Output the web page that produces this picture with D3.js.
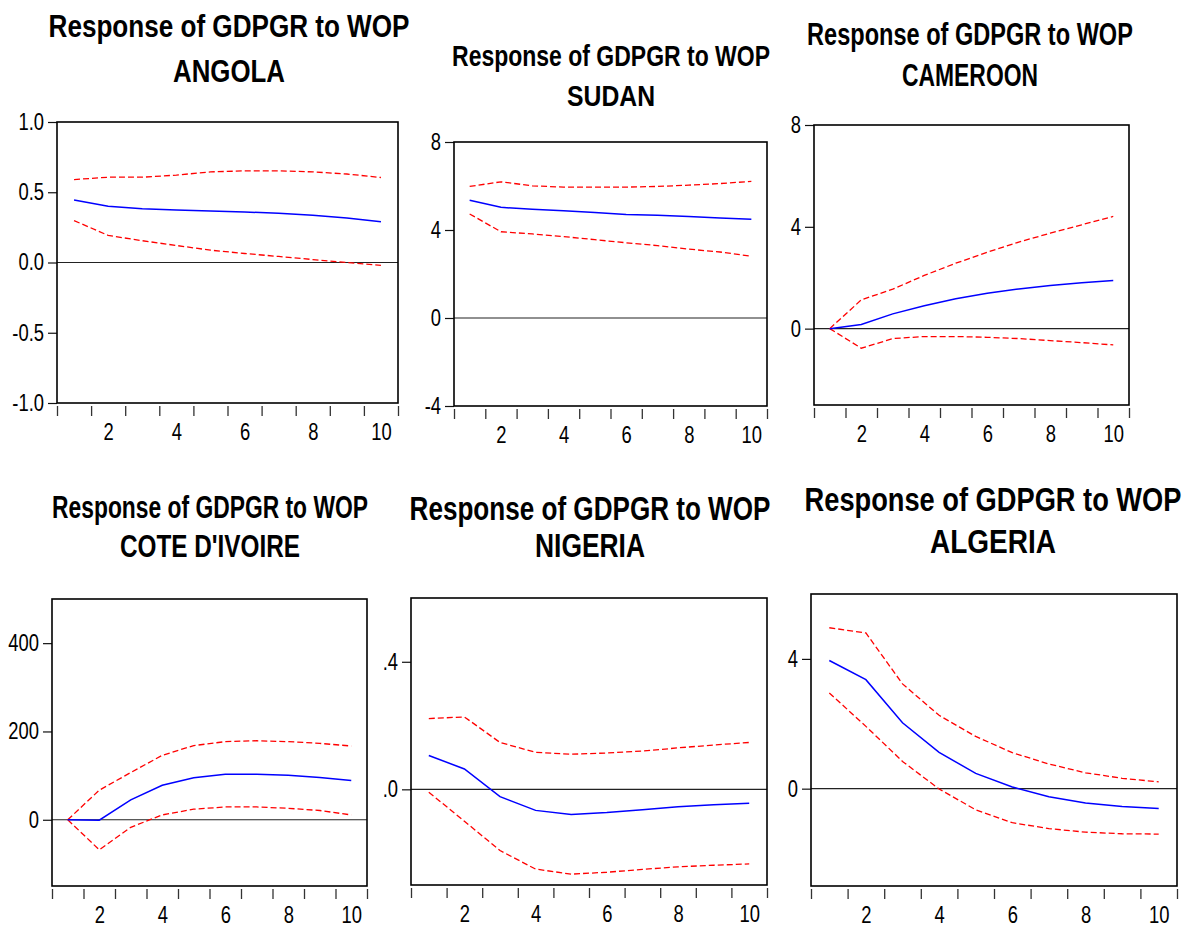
<!DOCTYPE html>
<html>
<head>
<meta charset="utf-8">
<script src="https://cdn.jsdelivr.net/npm/d3@7"></script>
<style>
  body { margin: 0; background: #fff; }
  svg text { font-family: "Liberation Sans Narrow", "Arial Narrow", "Liberation Sans", Arial, sans-serif; fill: #000; }
</style>
</head>
<body>
<svg id="chart" width="1188" height="929"></svg>
<script>
// Impulse-response horizon (periods) and the labelled x ticks
const periods = [1, 2, 3, 4, 5, 6, 7, 8, 9, 10];
const xTickLabels = [2, 4, 6, 8, 10];

// Country names shown as the second title line
const countries = ["ANGOLA", "SUDAN", "CAMEROON", "COTE D'IVOIRE", "NIGERIA", "ALGERIA"];
const titleText = "Response of GDPGR to WOP";

// Response of GDPGR to a WOP shock, with the ±2 S.E. bands
const angolaResponse = [0.445, 0.400, 0.383, 0.374, 0.367, 0.360, 0.350, 0.336, 0.317, 0.290];
const angolaUpper    = [0.590, 0.607, 0.607, 0.622, 0.645, 0.652, 0.652, 0.645, 0.630, 0.605];
const angolaLower    = [0.298, 0.193, 0.155, 0.121, 0.088, 0.064, 0.043, 0.021, 0.000, -0.021];

const sudanResponse = [5.35, 5.03, 4.94, 4.87, 4.79, 4.71, 4.67, 4.61, 4.55, 4.49];
const sudanUpper    = [5.98, 6.19, 6.01, 5.95, 5.95, 5.95, 5.98, 6.04, 6.11, 6.21];
const sudanLower    = [4.73, 3.92, 3.82, 3.70, 3.56, 3.42, 3.29, 3.13, 3.00, 2.81];

const cameroonResponse = [0.00, 0.16, 0.58, 0.90, 1.17, 1.39, 1.56, 1.69, 1.80, 1.89];
const cameroonUpper    = [0.00, 1.13, 1.55, 2.09, 2.57, 3.00, 3.40, 3.75, 4.08, 4.41];
const cameroonLower    = [0.00, -0.77, -0.39, -0.31, -0.31, -0.34, -0.39, -0.47, -0.55, -0.64];

const coteResponse = [0, -1, 45, 78, 95, 103, 103, 101, 96, 89];
const coteUpper    = [0, 67, 107, 146, 168, 177, 179, 177, 173, 167];
const coteLower    = [0, -68, -17, 11, 24, 29, 29, 26, 21, 11];

const nigeriaResponse = [0.106, 0.064, -0.023, -0.066, -0.079, -0.073, -0.064, -0.055, -0.048, -0.044];
const nigeriaUpper    = [0.222, 0.227, 0.147, 0.116, 0.110, 0.114, 0.120, 0.130, 0.139, 0.147];
const nigeriaLower    = [-0.009, -0.100, -0.192, -0.250, -0.266, -0.260, -0.251, -0.243, -0.238, -0.234];

const algeriaResponse = [3.95, 3.36, 2.03, 1.12, 0.47, 0.05, -0.25, -0.44, -0.55, -0.61];
const algeriaUpper    = [4.96, 4.80, 3.23, 2.26, 1.61, 1.11, 0.76, 0.49, 0.32, 0.21];
const algeriaLower    = [2.95, 1.92, 0.84, -0.01, -0.65, -1.05, -1.23, -1.34, -1.39, -1.40];

// Y-axis ranges and tick values per country
const yDomains = [[-1, 1], [-4, 8], [-3, 8], [-150, 500], [-0.3, 0.6], [-3, 6]];
const yTicks = [[-1, -0.5, 0, 0.5, 1], [-4, 0, 4, 8], [0, 4, 8], [0, 200, 400], [0, 0.4], [0, 4]];
const yTickFormats = [
  d => d.toFixed(1),
  d => String(d), d => String(d), d => String(d),
  d => d.toFixed(1).replace(/^0/, ""),
  d => String(d)
];

const seriesSets = [
  [angolaResponse, angolaUpper, angolaLower],
  [sudanResponse, sudanUpper, sudanLower],
  [cameroonResponse, cameroonUpper, cameroonLower],
  [coteResponse, coteUpper, coteLower],
  [nigeriaResponse, nigeriaUpper, nigeriaLower],
  [algeriaResponse, algeriaUpper, algeriaLower]
];

// Page layout: plot frames and title placement
const frames = [
  { x: 57,  y: 122, w: 341, h: 281 },
  { x: 454, y: 142, w: 313, h: 264 },
  { x: 814, y: 125, w: 315, h: 280 },
  { x: 52,  y: 599, w: 315, h: 287 },
  { x: 411, y: 598, w: 356, h: 287 },
  { x: 811, y: 594, w: 366, h: 292 }
];
const titles = [
  { cx: 229, b1: 37,  b2: 82,  w1: 361, w2: 112, size: 31 },
  { cx: 611, b1: 66,  b2: 106, w1: 318, w2: 88,  size: 30 },
  { cx: 970, b1: 45,  b2: 86,  w1: 326, w2: 136, size: 31 },
  { cx: 210, b1: 518, b2: 557, w1: 316, w2: 180, size: 31 },
  { cx: 590, b1: 520, b2: 557, w1: 361, w2: 110, size: 33 },
  { cx: 993, b1: 511, b2: 553, w1: 377, w2: 126, size: 33 }
];
const tickFontSize = 23;
const narrow = 0.8; // horizontal condensing of the tick labels

const svg = d3.select("#chart");

// Condensed text: draw at natural width, then squeeze horizontally to fit w
function condensedText(parent, txt, cx, base, w, size) {
  const el = parent.append("text")
    .attr("text-anchor", "middle")
    .attr("font-size", size).attr("font-weight", "bold")
    .text(txt);
  const natural = el.node().getComputedTextLength();
  el.attr("transform", `translate(${cx},${base}) scale(${w / natural},1)`);
}

seriesSets.forEach((series, i) => {
  const f = frames[i];
  const t = titles[i];
  const g = svg.append("g");

  const x = d3.scaleLinear().domain([0.5, 10.5]).range([f.x, f.x + f.w]);
  const y = d3.scaleLinear().domain(yDomains[i]).range([f.y + f.h, f.y]);

  // Titles
  condensedText(g, titleText, t.cx, t.b1, t.w1, t.size);
  condensedText(g, countries[i], t.cx, t.b2, t.w2, t.size);

  // Y axis: short ticks outside the frame with labels
  const yAxis = d3.axisLeft(y).tickValues(yTicks[i]).tickFormat(yTickFormats[i])
    .tickSizeInner(9).tickSizeOuter(0).tickPadding(4);
  const ya = g.append("g").attr("transform", `translate(${f.x},0)`).call(yAxis);
  ya.select(".domain").remove();
  ya.selectAll(".tick line").attr("stroke", "#111").attr("stroke-width", 1.2);
  ya.selectAll(".tick text")
    .attr("font-size", tickFontSize).attr("font-family", null)
    .attr("x", -13 / narrow)
    .attr("transform", `scale(${narrow},1)`);

  // X axis: boundary ticks between periods, labels at even periods
  const bounds = d3.range(0.5, 11, 1);
  const xTicksAxis = d3.axisBottom(x).tickValues(bounds).tickFormat("")
    .tickSizeInner(10).tickSizeOuter(0);
  const xa = g.append("g").attr("transform", `translate(0,${f.y + f.h + 3})`).call(xTicksAxis);
  xa.select(".domain").remove();
  xa.selectAll(".tick line").attr("stroke", "#333").attr("stroke-width", 1.3);

  const xLabelAxis = d3.axisBottom(x).tickValues(xTickLabels).tickFormat(d3.format("d"))
    .tickSize(0).tickPadding(0);
  const xl = g.append("g").attr("transform", `translate(0,${f.y + f.h + 21})`).call(xLabelAxis);
  xl.select(".domain").remove();
  xl.selectAll(".tick text")
    .attr("font-size", tickFontSize).attr("font-family", null)
    .attr("dy", "0.71em")
    .attr("transform", `scale(${narrow},1)`);

  // Zero line
  g.append("line")
    .attr("x1", f.x).attr("x2", f.x + f.w)
    .attr("y1", y(0)).attr("y2", y(0))
    .attr("stroke", "#222").attr("stroke-width", 1.2);

  const line = d3.line().x((d, k) => x(periods[k])).y(d => y(d));

  // Confidence bands
  [series[1], series[2]].forEach(band => {
    g.append("path").datum(band)
      .attr("d", line).attr("fill", "none")
      .attr("stroke", "#ff0000").attr("stroke-width", 1.3)
      .attr("stroke-dasharray", "6,3");
  });
  // Point estimate
  g.append("path").datum(series[0])
    .attr("d", line).attr("fill", "none")
    .attr("stroke", "#0000ff").attr("stroke-width", 1.5);

  // Plot frame
  g.append("rect")
    .attr("x", f.x).attr("y", f.y).attr("width", f.w).attr("height", f.h)
    .attr("fill", "none").attr("stroke", "#000").attr("stroke-width", 1.6);
});
</script>
</body>
</html>
